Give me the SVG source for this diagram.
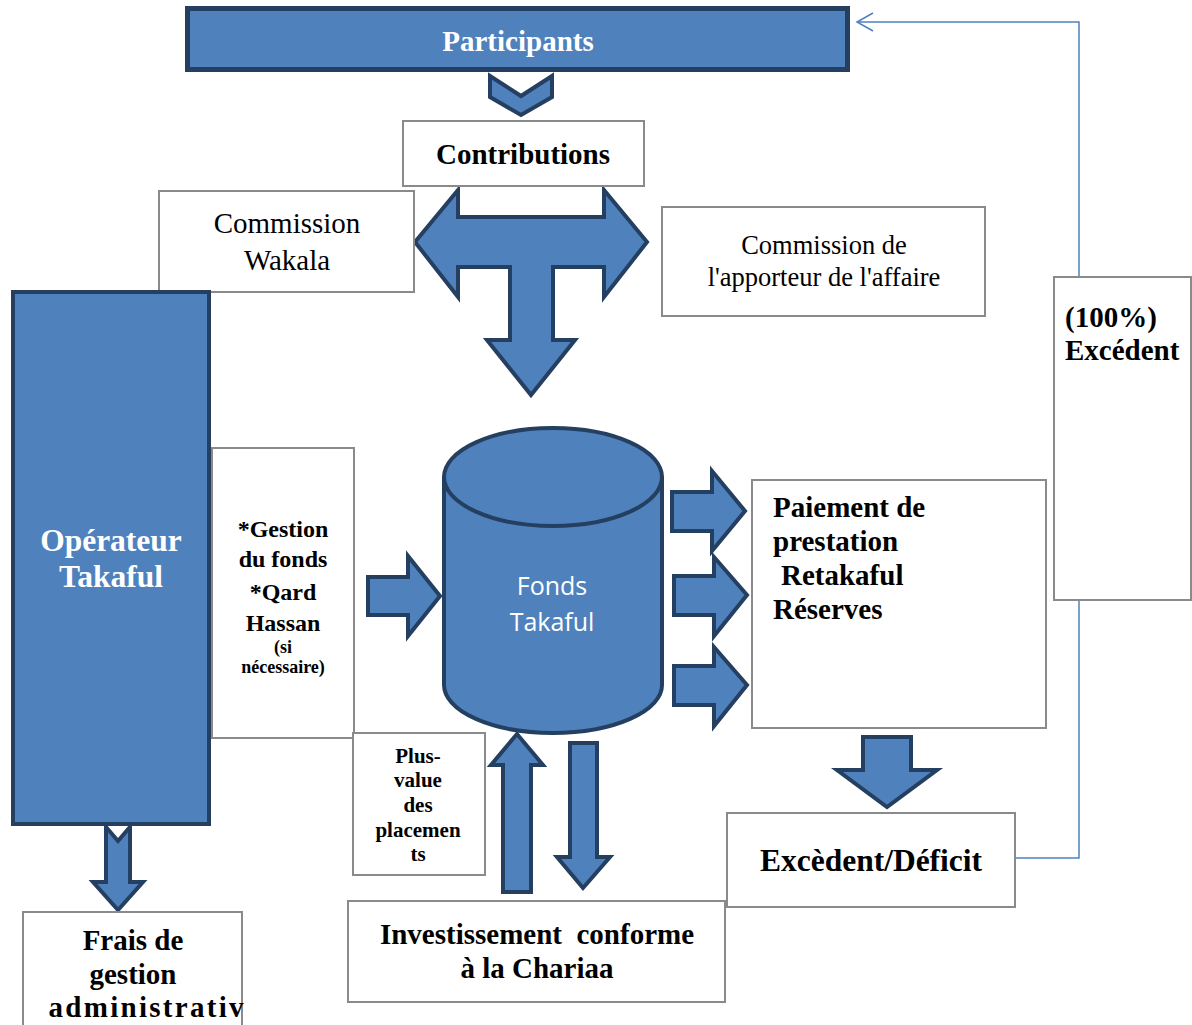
<svg xmlns="http://www.w3.org/2000/svg" width="1192" height="1025" viewBox="0 0 1192 1025">
<style>
.blue{fill:#4f81bd;stroke:#243f60;stroke-width:4;stroke-linejoin:miter}
.box{fill:#fff;stroke:#8a8a8a;stroke-width:2}
.tb{font-family:"Liberation Serif","Times New Roman",serif;font-weight:bold;fill:#000;text-anchor:middle}
.tr{font-family:"Liberation Serif","Times New Roman",serif;fill:#000;text-anchor:middle}
.tw{font-family:"Liberation Serif","Times New Roman",serif;font-weight:bold;fill:#fff;text-anchor:middle}
.ts{font-family:"Open Sans","Noto Sans",sans-serif;fill:#fff;text-anchor:middle}
.line{fill:none;stroke:#4f81bd;stroke-width:1.5}
</style>
<rect width="1192" height="1025" fill="#fff"/>

<g id="connectors">
  <polyline class="line" points="1015,858 1079,858 1079,22 858,22"/>
  <path class="line" d="M873,13 L857,22 L873,31"/>
  <polygon id="chevron-participants" class="blue" points="490,76 521,96 552,76 552,97 521,115 490,97"/>
  <polygon id="t-arrow" class="blue" points="415,242 458,190 458,217 604,217 604,190 647,242 604,297 604,267 553,267 553,340 575,340 531,395 487,340 510,340 510,267 458,267 458,297"/>
  <polygon id="arrow-gestion-fonds" class="blue" points="368,577 408,577 408,556 440,596 408,636 408,615 368,615"/>
  <polygon id="arrow-out-1" class="blue" points="672,492 712,492 712,471 745,511 712,551 712,531 672,531"/>
  <polygon id="arrow-out-2" class="blue" points="674,576 714,576 714,557 747,595 714,636 714,615 674,615"/>
  <polygon id="arrow-out-3" class="blue" points="674,666 714,666 714,647 747,685 714,726 714,705 674,705"/>
  <polygon id="arrow-paiement-excedent" class="blue" points="863,737 911,737 911,770 937,770 887,807 837,770 863,770"/>
  <polygon id="arrow-up-invest" class="blue" points="503,892 503,765 491,765 517,734 543,765 531,765 531,892"/>
  <polygon id="arrow-down-invest" class="blue" points="570,743 597,743 597,857 610,857 583,888 557,857 570,857"/>
</g>

<g id="node-participants">
  <rect x="187.5" y="8.5" width="660" height="61" fill="#4f81bd" stroke="#243f60" stroke-width="5"/>
  <text class="tw" x="518" y="51" font-size="29">Participants</text>
</g>

<g id="node-contributions">
  <rect class="box" x="403" y="121" width="241" height="65"/>
  <text class="tb" x="523" y="164" font-size="29">Contributions</text>
</g>

<g id="node-commission-wakala">
  <rect class="box" x="159" y="191" width="255" height="101"/>
  <text class="tr" x="287" y="233" font-size="29">Commission</text>
  <text class="tr" x="287" y="270" font-size="29">Wakala</text>
</g>

<g id="node-commission-apporteur">
  <rect class="box" x="662" y="207" width="323" height="109"/>
  <text class="tr" x="824" y="254" font-size="26.5">Commission de</text>
  <text class="tr" x="824" y="286" font-size="26.5">l'apporteur de l'affaire</text>
</g>

<g id="node-operateur">
  <rect x="13" y="292" width="196" height="532" fill="#4f81bd" stroke="#243f60" stroke-width="4"/>
  <text class="tw" x="111" y="551" font-size="31.5">Opérateur</text>
  <text class="tw" x="111" y="587" font-size="31.5">Takaful</text>
</g>

<g id="arrow-operateur-frais">
  <polygon class="blue" points="106,827 118,841 130,827 130,882 143,882 118,910 93,882 106,882"/>
</g>

<g id="node-gestion">
  <rect class="box" x="212" y="448" width="142" height="290"/>
  <text class="tb" x="283" y="537" font-size="24">*Gestion</text>
  <text class="tb" x="283" y="567" font-size="24">du fonds</text>
  <text class="tb" x="283" y="600" font-size="24">*Qard</text>
  <text class="tb" x="283" y="631" font-size="24">Hassan</text>
  <text class="tb" x="283" y="653" font-size="18">(si</text>
  <text class="tb" x="283" y="673" font-size="18">nécessaire)</text>
</g>

<g id="node-fonds-takaful">
  <path d="M444,477 L444,685 A109,48 0 0 0 662,685 L662,477" fill="#4f81bd" stroke="#243f60" stroke-width="4"/>
  <ellipse cx="553" cy="477" rx="109" ry="49" fill="#4f81bd" stroke="#243f60" stroke-width="4"/>
  <text class="ts" x="552" y="595" font-size="25">Fonds</text>
  <text class="ts" x="552" y="631" font-size="25">Takaful</text>
</g>

<g id="node-paiement">
  <rect class="box" x="752" y="480" width="294" height="248"/>
  <text class="tb" x="773" y="517" font-size="29" text-anchor="start" style="text-anchor:start">Paiement de</text>
  <text class="tb" x="773" y="551" font-size="29" style="text-anchor:start">prestation</text>
  <text class="tb" x="781" y="585" font-size="29" style="text-anchor:start">Retakaful</text>
  <text class="tb" x="773" y="619" font-size="29" style="text-anchor:start">Réserves</text>
</g>

<g id="node-excedent-100">
  <rect class="box" x="1054" y="277" width="137" height="323"/>
  <text class="tb" x="1065" y="327" font-size="29" style="text-anchor:start">(100%)</text>
  <text class="tb" x="1065" y="360" font-size="29" style="text-anchor:start">Excédent</text>
</g>

<g id="node-plus-value">
  <rect class="box" x="353" y="733" width="132" height="142"/>
  <text class="tb" x="418" y="763" font-size="21">Plus-</text>
  <text class="tb" x="418" y="787" font-size="21">value</text>
  <text class="tb" x="418" y="812" font-size="21">des</text>
  <text class="tb" x="418" y="837" font-size="21">placemen</text>
  <text class="tb" x="418" y="861" font-size="21">ts</text>
</g>

<g id="node-excedent-deficit">
  <rect class="box" x="727" y="813" width="288" height="94"/>
  <text class="tb" x="871" y="871" font-size="31.5">Excèdent/Déficit</text>
</g>

<g id="node-investissement">
  <rect class="box" x="348" y="901" width="377" height="101"/>
  <text class="tb" x="537" y="944" font-size="29" xml:space="preserve">Investissement  conforme</text>
  <text class="tb" x="537" y="978" font-size="29">à la Chariaa</text>
</g>

<g id="node-frais">
  <rect class="box" x="23" y="912" width="219" height="120"/>
  <text class="tb" x="133" y="950" font-size="29">Frais de</text>
  <text class="tb" x="133" y="984" font-size="29">gestion</text>
  <text class="tb" x="146" y="1017" font-size="29" textLength="195" lengthAdjust="spacing" style="text-anchor:middle">administrativ</text>
</g>
</svg>
